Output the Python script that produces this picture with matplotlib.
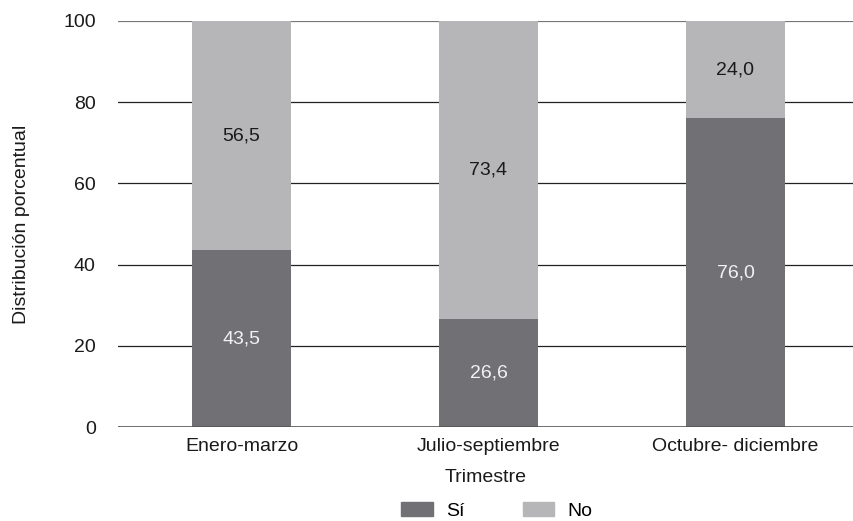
import numpy as np
import matplotlib.pyplot as plt
from matplotlib.patches import Patch

plt.rcParams['font.family'] = ['Liberation Sans', 'DejaVu Sans']

# Data
trimestres = ['Enero-marzo', 'Julio-septiembre', 'Octubre- diciembre']
si = [43.5, 26.6, 76.0]
no = [56.5, 73.4, 24.0]

DARK = '#707075'
LIGHT = '#b6b6b9'
TXT = '#1a1a1a'
FS = 14

fig = plt.figure(figsize=(8.54, 5.21), dpi=100)
ax = fig.add_axes([0.1382, 0.1804, 0.8618, 0.7793])

x = np.arange(len(trimestres))
w = 0.4
ax.bar(x, si, w, color=DARK, zorder=3, label='Sí')
ax.bar(x, no, w, bottom=si, color=LIGHT, zorder=3, label='No')

fmt = lambda v: '{:.1f}'.format(v).replace('.', ',')
for i in range(len(x)):
    ax.text(x[i], si[i] / 2, fmt(si[i]), ha='center', va='center',
            color='#f2f2f2', fontsize=FS, zorder=4)
    ax.text(x[i], si[i] + no[i] / 2, fmt(no[i]), ha='center', va='center',
            color=TXT, fontsize=FS, zorder=4)

ax.set_xlim(-0.5, 2.48)
ax.set_ylim(0, 100)
ax.set_yticks([0, 20, 40, 60, 80, 100])
ax.set_xticks(x)
ax.set_xticklabels(trimestres)
ax.tick_params(axis='both', length=0, labelsize=FS, colors=TXT)
ax.tick_params(axis='y', pad=16)
ax.tick_params(axis='x', pad=8)

for s in ax.spines.values():
    s.set_visible(False)

# horizontal gridlines
for yv in [20, 40, 60, 80]:
    ax.axhline(yv, color='#222222', lw=0.9, zorder=1)
ax.axhline(100, color='#777777', lw=1.6, zorder=1)
ax.axhline(0, color='#555555', lw=1.2, zorder=4)

ax.set_xlabel('Trimestre', fontsize=FS, color=TXT, labelpad=10)
ax.set_ylabel('Distribución porcentual', fontsize=FS, color=TXT, labelpad=24)

handles = [Patch(color=DARK, label='Sí'), Patch(color=LIGHT, label='No')]
fig.legend(handles=handles, loc='center', bbox_to_anchor=(0.582, 0.02),
           ncol=2, frameon=False, fontsize=FS, handlelength=1.6, handleheight=0.77,
           columnspacing=3.0, handletextpad=0.7, borderpad=0)

fig.savefig('out.png', dpi=100)
